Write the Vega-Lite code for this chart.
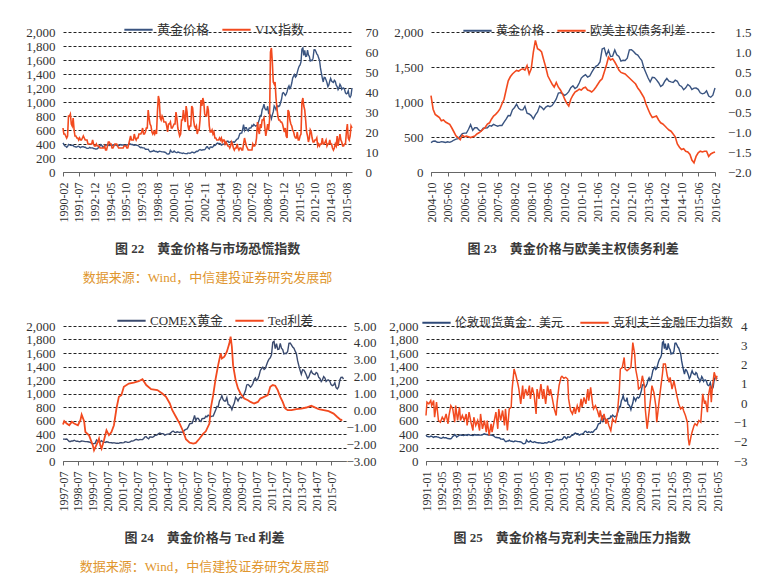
{
  "$schema": "https://vega.github.io/schema/vega-lite/v6.json",
  "padding": {"left": 25, "top": 14, "right": 2, "bottom": 2},
  "datasets": {
    "gold": [
      {"d":"1990-01","v":410},{"d":"1990-02","v":417},{"d":"1990-03","v":394},{"d":"1990-04","v":374},{"d":"1990-05","v":369},{"d":"1990-06","v":352},{"d":"1990-07","v":362},{"d":"1990-08","v":395},{"d":"1990-09","v":389},{"d":"1990-10","v":381},{"d":"1990-11","v":381},{"d":"1990-12","v":378},
      {"d":"1991-01","v":384},{"d":"1991-02","v":364},{"d":"1991-03","v":363},{"d":"1991-04","v":358},{"d":"1991-05","v":357},{"d":"1991-06","v":367},{"d":"1991-07","v":368},{"d":"1991-08","v":356},{"d":"1991-09","v":349},{"d":"1991-10","v":359},{"d":"1991-11","v":360},{"d":"1991-12","v":361},
      {"d":"1992-01","v":354},{"d":"1992-02","v":354},{"d":"1992-03","v":345},{"d":"1992-04","v":338},{"d":"1992-05","v":337},{"d":"1992-06","v":341},{"d":"1992-07","v":353},{"d":"1992-08","v":343},{"d":"1992-09","v":345},{"d":"1992-10","v":344},{"d":"1992-11","v":335},{"d":"1992-12","v":334},
      {"d":"1993-01","v":329},{"d":"1993-02","v":329},{"d":"1993-03","v":330},{"d":"1993-04","v":342},{"d":"1993-05","v":367},{"d":"1993-06","v":372},{"d":"1993-07","v":392},{"d":"1993-08","v":379},{"d":"1993-09","v":355},{"d":"1993-10","v":364},{"d":"1993-11","v":374},{"d":"1993-12","v":383},
      {"d":"1994-01","v":387},{"d":"1994-02","v":382},{"d":"1994-03","v":384},{"d":"1994-04","v":377},{"d":"1994-05","v":381},{"d":"1994-06","v":386},{"d":"1994-07","v":385},{"d":"1994-08","v":380},{"d":"1994-09","v":391},{"d":"1994-10","v":389},{"d":"1994-11","v":384},{"d":"1994-12","v":379},
      {"d":"1995-01","v":379},{"d":"1995-02","v":377},{"d":"1995-03","v":382},{"d":"1995-04","v":391},{"d":"1995-05","v":385},{"d":"1995-06","v":387},{"d":"1995-07","v":386},{"d":"1995-08","v":383},{"d":"1995-09","v":383},{"d":"1995-10","v":383},{"d":"1995-11","v":386},{"d":"1995-12","v":387},
      {"d":"1996-01","v":400},{"d":"1996-02","v":405},{"d":"1996-03","v":396},{"d":"1996-04","v":393},{"d":"1996-05","v":392},{"d":"1996-06","v":385},{"d":"1996-07","v":383},{"d":"1996-08","v":387},{"d":"1996-09","v":383},{"d":"1996-10","v":381},{"d":"1996-11","v":378},{"d":"1996-12","v":369},
      {"d":"1997-01","v":355},{"d":"1997-02","v":347},{"d":"1997-03","v":352},{"d":"1997-04","v":344},{"d":"1997-05","v":344},{"d":"1997-06","v":341},{"d":"1997-07","v":324},{"d":"1997-08","v":324},{"d":"1997-09","v":323},{"d":"1997-10","v":325},{"d":"1997-11","v":306},{"d":"1997-12","v":289},
      {"d":"1998-01","v":289},{"d":"1998-02","v":297},{"d":"1998-03","v":296},{"d":"1998-04","v":308},{"d":"1998-05","v":299},{"d":"1998-06","v":292},{"d":"1998-07","v":293},{"d":"1998-08","v":284},{"d":"1998-09","v":289},{"d":"1998-10","v":296},{"d":"1998-11","v":294},{"d":"1998-12","v":291},
      {"d":"1999-01","v":287},{"d":"1999-02","v":287},{"d":"1999-03","v":286},{"d":"1999-04","v":282},{"d":"1999-05","v":277},{"d":"1999-06","v":261},{"d":"1999-07","v":256},{"d":"1999-08","v":257},{"d":"1999-09","v":265},{"d":"1999-10","v":311},{"d":"1999-11","v":293},{"d":"1999-12","v":283},
      {"d":"2000-01","v":285},{"d":"2000-02","v":300},{"d":"2000-03","v":286},{"d":"2000-04","v":280},{"d":"2000-05","v":275},{"d":"2000-06","v":286},{"d":"2000-07","v":282},{"d":"2000-08","v":274},{"d":"2000-09","v":273},{"d":"2000-10","v":270},{"d":"2000-11","v":266},{"d":"2000-12","v":272},
      {"d":"2001-01","v":266},{"d":"2001-02","v":262},{"d":"2001-03","v":263},{"d":"2001-04","v":261},{"d":"2001-05","v":272},{"d":"2001-06","v":270},{"d":"2001-07","v":268},{"d":"2001-08","v":273},{"d":"2001-09","v":284},{"d":"2001-10","v":283},{"d":"2001-11","v":276},{"d":"2001-12","v":276},
      {"d":"2002-01","v":282},{"d":"2002-02","v":296},{"d":"2002-03","v":294},{"d":"2002-04","v":302},{"d":"2002-05","v":314},{"d":"2002-06","v":322},{"d":"2002-07","v":314},{"d":"2002-08","v":310},{"d":"2002-09","v":319},{"d":"2002-10","v":317},{"d":"2002-11","v":319},{"d":"2002-12","v":333},
      {"d":"2003-01","v":357},{"d":"2003-02","v":359},{"d":"2003-03","v":340},{"d":"2003-04","v":329},{"d":"2003-05","v":355},{"d":"2003-06","v":356},{"d":"2003-07","v":351},{"d":"2003-08","v":360},{"d":"2003-09","v":379},{"d":"2003-10","v":379},{"d":"2003-11","v":390},{"d":"2003-12","v":407},
      {"d":"2004-01","v":414},{"d":"2004-02","v":405},{"d":"2004-03","v":406},{"d":"2004-04","v":403},{"d":"2004-05","v":384},{"d":"2004-06","v":392},{"d":"2004-07","v":398},{"d":"2004-08","v":401},{"d":"2004-09","v":406},{"d":"2004-10","v":420},{"d":"2004-11","v":439},{"d":"2004-12","v":442},
      {"d":"2005-01","v":424},{"d":"2005-02","v":423},{"d":"2005-03","v":434},{"d":"2005-04","v":429},{"d":"2005-05","v":422},{"d":"2005-06","v":431},{"d":"2005-07","v":424},{"d":"2005-08","v":438},{"d":"2005-09","v":457},{"d":"2005-10","v":470},{"d":"2005-11","v":476},{"d":"2005-12","v":510},
      {"d":"2006-01","v":549},{"d":"2006-02","v":555},{"d":"2006-03","v":557},{"d":"2006-04","v":610},{"d":"2006-05","v":676},{"d":"2006-06","v":596},{"d":"2006-07","v":633},{"d":"2006-08","v":632},{"d":"2006-09","v":598},{"d":"2006-10","v":585},{"d":"2006-11","v":627},{"d":"2006-12","v":629},
      {"d":"2007-01","v":631},{"d":"2007-02","v":665},{"d":"2007-03","v":655},{"d":"2007-04","v":680},{"d":"2007-05","v":667},{"d":"2007-06","v":655},{"d":"2007-07","v":665},{"d":"2007-08","v":665},{"d":"2007-09","v":712},{"d":"2007-10","v":754},{"d":"2007-11","v":806},{"d":"2007-12","v":803},
      {"d":"2008-01","v":889},{"d":"2008-02","v":922},{"d":"2008-03","v":968},{"d":"2008-04","v":909},{"d":"2008-05","v":888},{"d":"2008-06","v":889},{"d":"2008-07","v":939},{"d":"2008-08","v":839},{"d":"2008-09","v":829},{"d":"2008-10","v":806},{"d":"2008-11","v":760},{"d":"2008-12","v":816},
      {"d":"2009-01","v":858},{"d":"2009-02","v":943},{"d":"2009-03","v":924},{"d":"2009-04","v":890},{"d":"2009-05","v":928},{"d":"2009-06","v":945},{"d":"2009-07","v":934},{"d":"2009-08","v":949},{"d":"2009-09","v":996},{"d":"2009-10","v":1043},{"d":"2009-11","v":1127},{"d":"2009-12","v":1134},
      {"d":"2010-01","v":1117},{"d":"2010-02","v":1095},{"d":"2010-03","v":1113},{"d":"2010-04","v":1148},{"d":"2010-05","v":1205},{"d":"2010-06","v":1232},{"d":"2010-07","v":1193},{"d":"2010-08","v":1215},{"d":"2010-09","v":1271},{"d":"2010-10","v":1342},{"d":"2010-11","v":1370},{"d":"2010-12","v":1391},
      {"d":"2011-01","v":1356},{"d":"2011-02","v":1372},{"d":"2011-03","v":1424},{"d":"2011-04","v":1473},{"d":"2011-05","v":1510},{"d":"2011-06","v":1529},{"d":"2011-07","v":1572},{"d":"2011-08","v":1756},{"d":"2011-09","v":1772},{"d":"2011-10","v":1665},{"d":"2011-11","v":1739},{"d":"2011-12","v":1652},
      {"d":"2012-01","v":1656},{"d":"2012-02","v":1742},{"d":"2012-03","v":1673},{"d":"2012-04","v":1650},{"d":"2012-05","v":1585},{"d":"2012-06","v":1596},{"d":"2012-07","v":1594},{"d":"2012-08","v":1626},{"d":"2012-09","v":1744},{"d":"2012-10","v":1747},{"d":"2012-11","v":1721},{"d":"2012-12","v":1688},
      {"d":"2013-01","v":1671},{"d":"2013-02","v":1627},{"d":"2013-03","v":1593},{"d":"2013-04","v":1487},{"d":"2013-05","v":1414},{"d":"2013-06","v":1343},{"d":"2013-07","v":1286},{"d":"2013-08","v":1352},{"d":"2013-09","v":1348},{"d":"2013-10","v":1316},{"d":"2013-11","v":1275},{"d":"2013-12","v":1221},
      {"d":"2014-01","v":1244},{"d":"2014-02","v":1300},{"d":"2014-03","v":1336},{"d":"2014-04","v":1299},{"d":"2014-05","v":1287},{"d":"2014-06","v":1279},{"d":"2014-07","v":1311},{"d":"2014-08","v":1296},{"d":"2014-09","v":1239},{"d":"2014-10","v":1222},{"d":"2014-11","v":1176},{"d":"2014-12","v":1202},
      {"d":"2015-01","v":1251},{"d":"2015-02","v":1227},{"d":"2015-03","v":1179},{"d":"2015-04","v":1198},{"d":"2015-05","v":1199},{"d":"2015-06","v":1181},{"d":"2015-07","v":1131},{"d":"2015-08","v":1117},{"d":"2015-09","v":1125},{"d":"2015-10","v":1159},{"d":"2015-11","v":1086},{"d":"2015-12","v":1068},
      {"d":"2016-01","v":1097},{"d":"2016-02","v":1200},{"d":"2016-03","v":1238},{"d":"2016-04","v":1242},{"d":"2016-05","v":1215}
    ],
    "vix": [
      {"d":"1990-02","v":22},{"d":"1990-03","v":19},{"d":"1990-04","v":19},{"d":"1990-05","v":18},{"d":"1990-06","v":17},{"d":"1990-07","v":18},{"d":"1990-08","v":28},{"d":"1990-09","v":28},{"d":"1990-10","v":29},{"d":"1990-11","v":24},{"d":"1990-12","v":23},
      {"d":"1991-01","v":27},{"d":"1991-02","v":21},{"d":"1991-03","v":18},{"d":"1991-04","v":18},{"d":"1991-05","v":17},{"d":"1991-06","v":17},{"d":"1991-07","v":16},{"d":"1991-08","v":17},{"d":"1991-09","v":16},{"d":"1991-10","v":16},{"d":"1991-11","v":17},{"d":"1991-12","v":18},
      {"d":"1992-01","v":17},{"d":"1992-02","v":16},{"d":"1992-03","v":16},{"d":"1992-04","v":16},{"d":"1992-05","v":14},{"d":"1992-06","v":14},{"d":"1992-07","v":14},{"d":"1992-08","v":14},{"d":"1992-09","v":14},{"d":"1992-10","v":16},{"d":"1992-11","v":14},{"d":"1992-12","v":13},
      {"d":"1993-01","v":13},{"d":"1993-02","v":14},{"d":"1993-03","v":13},{"d":"1993-04","v":13},{"d":"1993-05","v":13},{"d":"1993-06","v":12},{"d":"1993-07","v":12},{"d":"1993-08","v":12},{"d":"1993-09","v":12},{"d":"1993-10","v":12},{"d":"1993-11","v":13},{"d":"1993-12","v":11},
      {"d":"1994-01","v":11},{"d":"1994-02","v":13},{"d":"1994-03","v":15},{"d":"1994-04","v":15},{"d":"1994-05","v":14},{"d":"1994-06","v":14},{"d":"1994-07","v":12},{"d":"1994-08","v":12},{"d":"1994-09","v":13},{"d":"1994-10","v":14},{"d":"1994-11","v":14},{"d":"1994-12","v":14},
      {"d":"1995-01","v":13},{"d":"1995-02","v":12},{"d":"1995-03","v":12},{"d":"1995-04","v":12},{"d":"1995-05","v":12},{"d":"1995-06","v":12},{"d":"1995-07","v":12},{"d":"1995-08","v":13},{"d":"1995-09","v":13},{"d":"1995-10","v":13},{"d":"1995-11","v":12},{"d":"1995-12","v":12},
      {"d":"1996-01","v":14},{"d":"1996-02","v":16},{"d":"1996-03","v":18},{"d":"1996-04","v":16},{"d":"1996-05","v":16},{"d":"1996-06","v":16},{"d":"1996-07","v":19},{"d":"1996-08","v":17},{"d":"1996-09","v":16},{"d":"1996-10","v":17},{"d":"1996-11","v":17},{"d":"1996-12","v":19},
      {"d":"1997-01","v":19},{"d":"1997-02","v":19},{"d":"1997-03","v":20},{"d":"1997-04","v":22},{"d":"1997-05","v":19},{"d":"1997-06","v":19},{"d":"1997-07","v":20},{"d":"1997-08","v":22},{"d":"1997-09","v":22},{"d":"1997-10","v":31},{"d":"1997-11","v":27},{"d":"1997-12","v":24},
      {"d":"1998-01","v":23},{"d":"1998-02","v":20},{"d":"1998-03","v":19},{"d":"1998-04","v":20},{"d":"1998-05","v":19},{"d":"1998-06","v":21},{"d":"1998-07","v":19},{"d":"1998-08","v":30},{"d":"1998-09","v":38},{"d":"1998-10","v":36},{"d":"1998-11","v":27},{"d":"1998-12","v":26},
      {"d":"1999-01","v":28},{"d":"1999-02","v":27},{"d":"1999-03","v":25},{"d":"1999-04","v":25},{"d":"1999-05","v":25},{"d":"1999-06","v":23},{"d":"1999-07","v":20},{"d":"1999-08","v":24},{"d":"1999-09","v":24},{"d":"1999-10","v":25},{"d":"1999-11","v":22},{"d":"1999-12","v":22},
      {"d":"2000-01","v":23},{"d":"2000-02","v":24},{"d":"2000-03","v":24},{"d":"2000-04","v":30},{"d":"2000-05","v":27},{"d":"2000-06","v":22},{"d":"2000-07","v":20},{"d":"2000-08","v":18},{"d":"2000-09","v":19},{"d":"2000-10","v":26},{"d":"2000-11","v":26},{"d":"2000-12","v":31},
      {"d":"2001-01","v":27},{"d":"2001-02","v":25},{"d":"2001-03","v":33},{"d":"2001-04","v":30},{"d":"2001-05","v":23},{"d":"2001-06","v":21},{"d":"2001-07","v":23},{"d":"2001-08","v":23},{"d":"2001-09","v":33},{"d":"2001-10","v":32},{"d":"2001-11","v":26},{"d":"2001-12","v":23},
      {"d":"2002-01","v":22},{"d":"2002-02","v":23},{"d":"2002-03","v":19},{"d":"2002-04","v":21},{"d":"2002-05","v":21},{"d":"2002-06","v":26},{"d":"2002-07","v":36},{"d":"2002-08","v":33},{"d":"2002-09","v":37},{"d":"2002-10","v":35},{"d":"2002-11","v":29},{"d":"2002-12","v":28},
      {"d":"2003-01","v":28},{"d":"2003-02","v":33},{"d":"2003-03","v":31},{"d":"2003-04","v":23},{"d":"2003-05","v":20},{"d":"2003-06","v":20},{"d":"2003-07","v":21},{"d":"2003-08","v":19},{"d":"2003-09","v":20},{"d":"2003-10","v":17},{"d":"2003-11","v":17},{"d":"2003-12","v":16},
      {"d":"2004-01","v":16},{"d":"2004-02","v":16},{"d":"2004-03","v":17},{"d":"2004-04","v":16},{"d":"2004-05","v":17},{"d":"2004-06","v":15},{"d":"2004-07","v":16},{"d":"2004-08","v":16},{"d":"2004-09","v":14},{"d":"2004-10","v":15},{"d":"2004-11","v":14},{"d":"2004-12","v":13},
      {"d":"2005-01","v":13},{"d":"2005-02","v":12},{"d":"2005-03","v":13},{"d":"2005-04","v":15},{"d":"2005-05","v":14},{"d":"2005-06","v":12},{"d":"2005-07","v":11},{"d":"2005-08","v":12},{"d":"2005-09","v":12},{"d":"2005-10","v":14},{"d":"2005-11","v":12},{"d":"2005-12","v":11},
      {"d":"2006-01","v":12},{"d":"2006-02","v":12},{"d":"2006-03","v":11},{"d":"2006-04","v":11},{"d":"2006-05","v":14},{"d":"2006-06","v":17},{"d":"2006-07","v":15},{"d":"2006-08","v":13},{"d":"2006-09","v":12},{"d":"2006-10","v":11},{"d":"2006-11","v":11},{"d":"2006-12","v":11},
      {"d":"2007-01","v":11},{"d":"2007-02","v":11},{"d":"2007-03","v":14},{"d":"2007-04","v":13},{"d":"2007-05","v":13},{"d":"2007-06","v":14},{"d":"2007-07","v":17},{"d":"2007-08","v":25},{"d":"2007-09","v":21},{"d":"2007-10","v":19},{"d":"2007-11","v":24},{"d":"2007-12","v":22},
      {"d":"2008-01","v":26},{"d":"2008-02","v":26},{"d":"2008-03","v":27},{"d":"2008-04","v":22},{"d":"2008-05","v":18},{"d":"2008-06","v":21},{"d":"2008-07","v":24},{"d":"2008-08","v":21},{"d":"2008-09","v":26},{"d":"2008-10","v":60},{"d":"2008-11","v":62},{"d":"2008-12","v":55},
      {"d":"2009-01","v":45},{"d":"2009-02","v":44},{"d":"2009-03","v":45},{"d":"2009-04","v":37},{"d":"2009-05","v":32},{"d":"2009-06","v":28},{"d":"2009-07","v":26},{"d":"2009-08","v":26},{"d":"2009-09","v":25},{"d":"2009-10","v":25},{"d":"2009-11","v":24},{"d":"2009-12","v":22},
      {"d":"2010-01","v":20},{"d":"2010-02","v":22},{"d":"2010-03","v":18},{"d":"2010-04","v":17},{"d":"2010-05","v":31},{"d":"2010-06","v":30},{"d":"2010-07","v":26},{"d":"2010-08","v":24},{"d":"2010-09","v":23},{"d":"2010-10","v":21},{"d":"2010-11","v":20},{"d":"2010-12","v":18},
      {"d":"2011-01","v":17},{"d":"2011-02","v":17},{"d":"2011-03","v":20},{"d":"2011-04","v":16},{"d":"2011-05","v":16},{"d":"2011-06","v":18},{"d":"2011-07","v":19},{"d":"2011-08","v":35},{"d":"2011-09","v":37},{"d":"2011-10","v":33},{"d":"2011-11","v":31},{"d":"2011-12","v":26},
      {"d":"2012-01","v":20},{"d":"2012-02","v":18},{"d":"2012-03","v":15},{"d":"2012-04","v":17},{"d":"2012-05","v":21},{"d":"2012-06","v":20},{"d":"2012-07","v":17},{"d":"2012-08","v":15},{"d":"2012-09","v":15},{"d":"2012-10","v":16},{"d":"2012-11","v":16},{"d":"2012-12","v":17},
      {"d":"2013-01","v":13},{"d":"2013-02","v":14},{"d":"2013-03","v":13},{"d":"2013-04","v":14},{"d":"2013-05","v":14},{"d":"2013-06","v":17},{"d":"2013-07","v":14},{"d":"2013-08","v":14},{"d":"2013-09","v":15},{"d":"2013-10","v":16},{"d":"2013-11","v":13},{"d":"2013-12","v":14},
      {"d":"2014-01","v":14},{"d":"2014-02","v":16},{"d":"2014-03","v":14},{"d":"2014-04","v":14},{"d":"2014-05","v":12},{"d":"2014-06","v":11},{"d":"2014-07","v":12},{"d":"2014-08","v":14},{"d":"2014-09","v":13},{"d":"2014-10","v":18},{"d":"2014-11","v":13},{"d":"2014-12","v":16},
      {"d":"2015-01","v":19},{"d":"2015-02","v":16},{"d":"2015-03","v":15},{"d":"2015-04","v":13},{"d":"2015-05","v":13},{"d":"2015-06","v":14},{"d":"2015-07","v":14},{"d":"2015-08","v":20},{"d":"2015-09","v":24},{"d":"2015-10","v":17},{"d":"2015-11","v":16},{"d":"2015-12","v":18},
      {"d":"2016-01","v":23},{"d":"2016-02","v":22}
    ],
    "spread": [
      {"d":"2004-10","v":-0.09},{"d":"2004-11","v":-0.43},{"d":"2004-12","v":-0.56},{"d":"2005-01","v":-0.6},{"d":"2005-02","v":-0.64},{"d":"2005-03","v":-0.72},{"d":"2005-04","v":-0.7},{"d":"2005-05","v":-0.75},{"d":"2005-06","v":-0.78},{"d":"2005-07","v":-0.81},{"d":"2005-08","v":-0.9},{"d":"2005-09","v":-1.0},{"d":"2005-10","v":-1.1},{"d":"2005-11","v":-1.14},{"d":"2005-12","v":-1.19},
      {"d":"2006-01","v":-1.08},{"d":"2006-02","v":-1.12},{"d":"2006-03","v":-1.1},{"d":"2006-04","v":-1.12},{"d":"2006-05","v":-1.14},{"d":"2006-06","v":-1.12},{"d":"2006-07","v":-1.1},{"d":"2006-08","v":-1.05},{"d":"2006-09","v":-1.02},{"d":"2006-10","v":-0.98},{"d":"2006-11","v":-0.93},{"d":"2006-12","v":-0.88},
      {"d":"2007-01","v":-0.8},{"d":"2007-02","v":-0.77},{"d":"2007-03","v":-0.68},{"d":"2007-04","v":-0.6},{"d":"2007-05","v":-0.56},{"d":"2007-06","v":-0.5},{"d":"2007-07","v":-0.43},{"d":"2007-08","v":-0.3},{"d":"2007-09","v":-0.18},{"d":"2007-10","v":0.05},{"d":"2007-11","v":0.28},{"d":"2007-12","v":0.38},
      {"d":"2008-01","v":0.45},{"d":"2008-02","v":0.5},{"d":"2008-03","v":0.54},{"d":"2008-04","v":0.52},{"d":"2008-05","v":0.56},{"d":"2008-06","v":0.58},{"d":"2008-07","v":0.55},{"d":"2008-08","v":0.66},{"d":"2008-09","v":0.45},{"d":"2008-10","v":0.58},{"d":"2008-11","v":1.0},{"d":"2008-12","v":1.29},
      {"d":"2009-01","v":1.08},{"d":"2009-02","v":1.05},{"d":"2009-03","v":1.0},{"d":"2009-04","v":0.8},{"d":"2009-05","v":0.62},{"d":"2009-06","v":0.4},{"d":"2009-07","v":0.3},{"d":"2009-08","v":0.2},{"d":"2009-09","v":0.12},{"d":"2009-10","v":0.24},{"d":"2009-11","v":0.12},{"d":"2009-12","v":0.05},
      {"d":"2010-01","v":-0.05},{"d":"2010-02","v":-0.18},{"d":"2010-03","v":-0.28},{"d":"2010-04","v":-0.35},{"d":"2010-05","v":-0.18},{"d":"2010-06","v":-0.08},{"d":"2010-07","v":0.0},{"d":"2010-08","v":0.03},{"d":"2010-09","v":0.07},{"d":"2010-10","v":0.05},{"d":"2010-11","v":0.1},{"d":"2010-12","v":0.12},
      {"d":"2011-01","v":0.05},{"d":"2011-02","v":0.03},{"d":"2011-03","v":0.0},{"d":"2011-04","v":0.05},{"d":"2011-05","v":0.12},{"d":"2011-06","v":0.2},{"d":"2011-07","v":0.28},{"d":"2011-08","v":0.33},{"d":"2011-09","v":0.5},{"d":"2011-10","v":0.66},{"d":"2011-11","v":0.87},{"d":"2011-12","v":0.8},
      {"d":"2012-01","v":0.83},{"d":"2012-02","v":0.75},{"d":"2012-03","v":0.66},{"d":"2012-04","v":0.55},{"d":"2012-05","v":0.49},{"d":"2012-06","v":0.47},{"d":"2012-07","v":0.45},{"d":"2012-08","v":0.4},{"d":"2012-09","v":0.35},{"d":"2012-10","v":0.3},{"d":"2012-11","v":0.25},{"d":"2012-12","v":0.2},
      {"d":"2013-01","v":0.1},{"d":"2013-02","v":0.03},{"d":"2013-03","v":-0.05},{"d":"2013-04","v":-0.14},{"d":"2013-05","v":-0.3},{"d":"2013-06","v":-0.43},{"d":"2013-07","v":-0.55},{"d":"2013-08","v":-0.64},{"d":"2013-09","v":-0.62},{"d":"2013-10","v":-0.6},{"d":"2013-11","v":-0.7},{"d":"2013-12","v":-0.77},
      {"d":"2014-01","v":-0.8},{"d":"2014-02","v":-0.85},{"d":"2014-03","v":-0.9},{"d":"2014-04","v":-0.95},{"d":"2014-05","v":-0.98},{"d":"2014-06","v":-1.05},{"d":"2014-07","v":-1.12},{"d":"2014-08","v":-1.3},{"d":"2014-09","v":-1.38},{"d":"2014-10","v":-1.44},{"d":"2014-11","v":-1.42},{"d":"2014-12","v":-1.48},
      {"d":"2015-01","v":-1.5},{"d":"2015-02","v":-1.56},{"d":"2015-03","v":-1.7},{"d":"2015-04","v":-1.77},{"d":"2015-05","v":-1.61},{"d":"2015-06","v":-1.52},{"d":"2015-07","v":-1.48},{"d":"2015-08","v":-1.5},{"d":"2015-09","v":-1.48},{"d":"2015-10","v":-1.48},{"d":"2015-11","v":-1.61},{"d":"2015-12","v":-1.55},
      {"d":"2016-01","v":-1.52},{"d":"2016-02","v":-1.5}
    ],
    "ted": [
      {"d":"1997-07","v":-0.84},{"d":"1997-08","v":-0.64},{"d":"1997-10","v":-0.78},{"d":"1997-12","v":-0.88},{"d":"1998-02","v":-0.68},{"d":"1998-04","v":-0.78},{"d":"1998-07","v":-0.88},{"d":"1998-09","v":-0.58},{"d":"1998-10","v":-0.25},{"d":"1998-12","v":-0.64},
      {"d":"1999-01","v":-1.28},{"d":"1999-04","v":-1.48},{"d":"1999-05","v":-1.67},{"d":"1999-07","v":-2.07},{"d":"1999-08","v":-2.37},{"d":"1999-11","v":-1.87},{"d":"1999-12","v":-1.67},
      {"d":"2000-01","v":-2.07},{"d":"2000-02","v":-2.27},{"d":"2000-04","v":-1.77},{"d":"2000-06","v":-1.18},{"d":"2000-08","v":-1.47},{"d":"2000-10","v":-1.28},{"d":"2000-12","v":-0.88},
      {"d":"2001-02","v":0.11},{"d":"2001-04","v":0.8},{"d":"2001-06","v":0.9},{"d":"2001-08","v":1.4},{"d":"2001-12","v":1.59},{"d":"2002-04","v":1.65},{"d":"2002-08","v":1.73},{"d":"2002-11","v":1.85},
      {"d":"2003-02","v":1.5},{"d":"2003-06","v":1.26},{"d":"2003-11","v":1.2},{"d":"2004-03","v":1.0},{"d":"2004-06","v":0.8},{"d":"2004-09","v":0.41},{"d":"2004-11","v":0.01},
      {"d":"2005-02","v":-0.39},{"d":"2005-05","v":-0.78},{"d":"2005-08","v":-1.28},{"d":"2005-10","v":-1.71},{"d":"2006-01","v":-1.91},{"d":"2006-04","v":-1.97},{"d":"2006-06","v":-1.93},{"d":"2006-09","v":-1.67},{"d":"2006-12","v":-1.38},
      {"d":"2007-02","v":-1.24},{"d":"2007-05","v":-0.78},{"d":"2007-06","v":0.11},{"d":"2007-08","v":0.9},{"d":"2007-10","v":1.89},{"d":"2007-12","v":2.68},
      {"d":"2008-02","v":3.38},{"d":"2008-03","v":3.08},{"d":"2008-05","v":3.18},{"d":"2008-07","v":3.48},{"d":"2008-09","v":3.97},{"d":"2008-10","v":4.37},{"d":"2008-11","v":3.77},{"d":"2008-12","v":2.68},
      {"d":"2009-02","v":1.79},{"d":"2009-04","v":1.3},{"d":"2009-06","v":1.0},{"d":"2009-09","v":0.7},{"d":"2009-12","v":0.6},{"d":"2010-02","v":0.5},{"d":"2010-05","v":0.41},{"d":"2010-08","v":0.5},{"d":"2010-10","v":0.7},
      {"d":"2011-01","v":0.8},{"d":"2011-04","v":0.9},{"d":"2011-06","v":1.4},{"d":"2011-08","v":1.5},{"d":"2011-10","v":1.46},{"d":"2011-12","v":1.2},
      {"d":"2012-02","v":0.8},{"d":"2012-04","v":0.5},{"d":"2012-06","v":0.11},{"d":"2012-08","v":0.01},{"d":"2012-11","v":0.01},{"d":"2013-03","v":0.07},{"d":"2013-07","v":0.11},{"d":"2013-11","v":0.17},
      {"d":"2014-03","v":0.27},{"d":"2014-05","v":0.21},{"d":"2014-09","v":0.07},{"d":"2015-01","v":0.01},{"d":"2015-05","v":-0.05},{"d":"2015-09","v":-0.19},{"d":"2015-12","v":-0.39},{"d":"2016-03","v":-0.58},{"d":"2016-04","v":-0.54}
    ],
    "fsi": [
      {"d":"1991-01","v":-0.64},{"d":"1991-02","v":0.05},{"d":"1991-04","v":-0.04},{"d":"1991-06","v":0.13},{"d":"1991-07","v":-0.13},{"d":"1991-09","v":0.13},{"d":"1991-10","v":-0.73},{"d":"1991-12","v":0.05},
      {"d":"1992-02","v":-0.9},{"d":"1992-04","v":-0.99},{"d":"1992-06","v":-0.73},{"d":"1992-08","v":-0.9},{"d":"1992-10","v":-0.56},{"d":"1992-12","v":-1.07},
      {"d":"1993-01","v":-0.64},{"d":"1993-03","v":-0.13},{"d":"1993-05","v":-0.3},{"d":"1993-07","v":-0.99},{"d":"1993-08","v":-0.13},{"d":"1993-10","v":-0.9},{"d":"1993-12","v":-0.21},
      {"d":"1994-01","v":-0.9},{"d":"1994-03","v":-0.64},{"d":"1994-05","v":-0.9},{"d":"1994-07","v":-0.56},{"d":"1994-08","v":-1.16},{"d":"1994-10","v":-0.47},{"d":"1994-12","v":-0.99},
      {"d":"1995-02","v":-1.42},{"d":"1995-03","v":-0.73},{"d":"1995-05","v":-1.16},{"d":"1995-07","v":-0.9},{"d":"1995-09","v":-1.42},{"d":"1995-10","v":-0.56},{"d":"1995-12","v":-1.33},
      {"d":"1996-02","v":-0.9},{"d":"1996-04","v":-1.5},{"d":"1996-05","v":-0.9},{"d":"1996-07","v":-1.67},{"d":"1996-09","v":-1.07},{"d":"1996-10","v":-1.5},{"d":"1996-12","v":-0.99},
      {"d":"1997-02","v":-0.47},{"d":"1997-04","v":-1.33},{"d":"1997-05","v":-0.3},{"d":"1997-07","v":-0.9},{"d":"1997-09","v":-0.38},{"d":"1997-11","v":-1.16},{"d":"1997-12","v":-0.3},
      {"d":"1998-02","v":-1.42},{"d":"1998-04","v":-0.3},{"d":"1998-06","v":-0.21},{"d":"1998-07","v":0.73},{"d":"1998-09","v":1.77},{"d":"1998-11","v":1.42},
      {"d":"1999-01","v":0.99},{"d":"1999-02","v":0.73},{"d":"1999-04","v":-0.04},{"d":"1999-06","v":0.91},{"d":"1999-07","v":0.22},{"d":"1999-09","v":0.73},{"d":"1999-11","v":0.39},
      {"d":"2000-01","v":0.91},{"d":"2000-02","v":0.22},{"d":"2000-04","v":0.82},{"d":"2000-06","v":0.39},{"d":"2000-08","v":-0.56},{"d":"2000-09","v":0.73},{"d":"2000-11","v":0.22},
      {"d":"2001-01","v":0.99},{"d":"2001-03","v":0.22},{"d":"2001-04","v":0.73},{"d":"2001-06","v":-0.04},{"d":"2001-08","v":0.91},{"d":"2001-10","v":0.39},{"d":"2001-11","v":0.73},
      {"d":"2002-01","v":0.22},{"d":"2002-03","v":-0.3},{"d":"2002-05","v":-0.64},{"d":"2002-06","v":0.05},{"d":"2002-08","v":0.91},{"d":"2002-10","v":1.34},{"d":"2002-11","v":1.39},
      {"d":"2003-01","v":1.29},{"d":"2003-03","v":1.34},{"d":"2003-05","v":1.25},{"d":"2003-06","v":0.22},{"d":"2003-08","v":-0.38},{"d":"2003-10","v":-0.56},{"d":"2003-12","v":-0.21},
      {"d":"2004-01","v":-0.56},{"d":"2004-03","v":-0.13},{"d":"2004-05","v":-0.47},{"d":"2004-07","v":0.22},{"d":"2004-08","v":-0.21},{"d":"2004-10","v":0.3},{"d":"2004-12","v":-0.04},
      {"d":"2005-02","v":0.73},{"d":"2005-03","v":0.13},{"d":"2005-05","v":0.82},{"d":"2005-07","v":-0.04},{"d":"2005-08","v":-0.3},{"d":"2005-10","v":-0.13},{"d":"2005-12","v":-0.38},
      {"d":"2006-02","v":-0.73},{"d":"2006-03","v":-0.38},{"d":"2006-05","v":-0.9},{"d":"2006-07","v":-0.56},{"d":"2006-09","v":-1.07},{"d":"2006-10","v":-0.81},{"d":"2006-12","v":-1.16},
      {"d":"2007-02","v":-1.42},{"d":"2007-04","v":-0.81},{"d":"2007-05","v":-0.9},{"d":"2007-07","v":-0.99},{"d":"2007-09","v":-0.47},{"d":"2007-11","v":0.73},{"d":"2007-12","v":1.77},
      {"d":"2008-02","v":1.85},{"d":"2008-04","v":2.37},{"d":"2008-05","v":1.77},{"d":"2008-07","v":1.68},{"d":"2008-09","v":1.77},{"d":"2008-11","v":1.85},{"d":"2008-12","v":2.46},
      {"d":"2009-01","v":3.14},{"d":"2009-03","v":2.54},{"d":"2009-04","v":1.77},{"d":"2009-06","v":1.25},{"d":"2009-07","v":0.73},{"d":"2009-09","v":0.82},{"d":"2009-11","v":1.42},
      {"d":"2010-01","v":0.91},{"d":"2010-02","v":-0.3},{"d":"2010-04","v":-1.33},{"d":"2010-06","v":-0.47},{"d":"2010-08","v":0.39},{"d":"2010-09","v":0.91},{"d":"2010-11","v":0.56},
      {"d":"2011-01","v":-0.13},{"d":"2011-02","v":-0.99},{"d":"2011-04","v":-0.13},{"d":"2011-06","v":0.73},{"d":"2011-08","v":1.51},{"d":"2011-09","v":2.03},{"d":"2011-11","v":2.03},
      {"d":"2012-01","v":1.42},{"d":"2012-03","v":1.08},{"d":"2012-04","v":1.34},{"d":"2012-06","v":0.73},{"d":"2012-08","v":1.16},{"d":"2012-10","v":0.65},{"d":"2012-11","v":0.39},
      {"d":"2013-01","v":-0.04},{"d":"2013-03","v":-0.3},{"d":"2013-05","v":-0.21},{"d":"2013-06","v":-0.38},{"d":"2013-08","v":-0.64},{"d":"2013-10","v":-0.99},{"d":"2013-11","v":-1.85},{"d":"2013-12","v":-2.19},
      {"d":"2014-02","v":-1.67},{"d":"2014-03","v":-1.5},{"d":"2014-05","v":-1.16},{"d":"2014-06","v":-1.07},{"d":"2014-08","v":-1.16},{"d":"2014-10","v":-0.9},{"d":"2014-12","v":-0.99},
      {"d":"2015-01","v":-0.3},{"d":"2015-02","v":0.48},{"d":"2015-04","v":-0.04},{"d":"2015-05","v":0.13},{"d":"2015-07","v":-0.47},{"d":"2015-08","v":0.39},{"d":"2015-10","v":0.91},{"d":"2015-11","v":0.05},{"d":"2015-12","v":0.73},
      {"d":"2016-02","v":1.6},{"d":"2016-04","v":1.25},{"d":"2016-05","v":1.42}
    ]
  },
  "vconcat": [
    {
      "hconcat": [
        {
          "width": 289,
          "height": 140,
          "title": {"text": "图 22　黄金价格与市场恐慌指数", "subtitle": "数据来源：Wind，中信建投证券研究发展部"},
          "encoding": {
            "x": {
              "field": "d", "type": "temporal", "title": null,
              "scale": {"type": "utc", "domain": [{"year": 1990, "month": 2, "utc": true}, {"year": 2016, "month": 2, "utc": true}]},
              "axis": {"values": [
                {"year": 1990, "month": 2, "utc": true}, {"year": 1991, "month": 7, "utc": true}, {"year": 1992, "month": 12, "utc": true},
                {"year": 1994, "month": 5, "utc": true}, {"year": 1995, "month": 10, "utc": true}, {"year": 1997, "month": 3, "utc": true},
                {"year": 1998, "month": 8, "utc": true}, {"year": 2000, "month": 1, "utc": true}, {"year": 2001, "month": 6, "utc": true},
                {"year": 2002, "month": 11, "utc": true}, {"year": 2004, "month": 4, "utc": true}, {"year": 2005, "month": 9, "utc": true},
                {"year": 2007, "month": 2, "utc": true}, {"year": 2008, "month": 7, "utc": true}, {"year": 2009, "month": 12, "utc": true},
                {"year": 2011, "month": 5, "utc": true}, {"year": 2012, "month": 10, "utc": true}, {"year": 2014, "month": 3, "utc": true},
                {"year": 2015, "month": 8, "utc": true}
              ]}
            }
          },
          "layer": [
            {
              "data": {"name": "gold"},
              "transform": [{"filter": {"field": "d", "range": [{"year": 1990, "month": 2, "utc": true}, {"year": 2016, "month": 2, "utc": true}]}}],
              "mark": {"type": "line", "strokeWidth": 1.4},
              "encoding": {
                "y": {"field": "v", "type": "quantitative", "title": null, "scale": {"domain": [0, 2000]},
                      "axis": {"values": [0, 200, 400, 600, 800, 1000, 1200, 1400, 1600, 1800, 2000], "format": ",.0f", "grid": true}},
                "color": {"datum": "黄金价格",
                          "scale": {"domain": ["黄金价格", "VIX指数"], "range": ["#3a5480", "#f24a1f"]},
                          "legend": {"title": null, "legendX": 60, "legendY": -18, "labelFontSize": 13}}
              }
            },
            {
              "data": {"name": "vix"},
              "mark": {"type": "line", "strokeWidth": 1.6},
              "encoding": {
                "y": {"field": "v", "type": "quantitative", "title": null, "scale": {"domain": [0, 70]},
                      "axis": {"orient": "right", "values": [0, 10, 20, 30, 40, 50, 60, 70], "grid": false, "labelPadding": 13}},
                "color": {"datum": "VIX指数"}
              }
            }
          ],
          "resolve": {"scale": {"y": "independent"}}
        },
        {
          "width": 284,
          "height": 140,
          "title": {"text": "图 23　黄金价格与欧美主权债务利差"},
          "encoding": {
            "x": {
              "field": "d", "type": "temporal", "title": null,
              "scale": {"type": "utc", "domain": [{"year": 2004, "month": 10, "utc": true}, {"year": 2016, "month": 2, "utc": true}]},
              "axis": {"values": [
                {"year": 2004, "month": 10, "utc": true}, {"year": 2005, "month": 6, "utc": true}, {"year": 2006, "month": 2, "utc": true},
                {"year": 2006, "month": 10, "utc": true}, {"year": 2007, "month": 6, "utc": true}, {"year": 2008, "month": 2, "utc": true},
                {"year": 2008, "month": 10, "utc": true}, {"year": 2009, "month": 6, "utc": true}, {"year": 2010, "month": 2, "utc": true},
                {"year": 2010, "month": 10, "utc": true}, {"year": 2011, "month": 6, "utc": true}, {"year": 2012, "month": 2, "utc": true},
                {"year": 2012, "month": 10, "utc": true}, {"year": 2013, "month": 6, "utc": true}, {"year": 2014, "month": 2, "utc": true},
                {"year": 2014, "month": 10, "utc": true}, {"year": 2015, "month": 6, "utc": true}, {"year": 2016, "month": 2, "utc": true}
              ]}
            }
          },
          "layer": [
            {
              "data": {"name": "gold"},
              "transform": [{"filter": {"field": "d", "range": [{"year": 2004, "month": 10, "utc": true}, {"year": 2016, "month": 2, "utc": true}]}}],
              "mark": {"type": "line", "strokeWidth": 1.4},
              "encoding": {
                "y": {"field": "v", "type": "quantitative", "title": null, "scale": {"domain": [0, 2000]},
                      "axis": {"values": [0, 500, 1000, 1500, 2000], "format": ",.0f", "grid": true}},
                "color": {"datum": "黄金价格",
                          "scale": {"domain": ["黄金价格", "欧美主权债务利差"], "range": ["#3a5480", "#f24a1f"]},
                          "legend": {"title": null, "legendX": 31, "legendY": -17}}
              }
            },
            {
              "data": {"name": "spread"},
              "mark": {"type": "line", "strokeWidth": 1.6},
              "encoding": {
                "y": {"field": "v", "type": "quantitative", "title": null, "scale": {"domain": [-2, 1.5]},
                      "axis": {"orient": "right", "values": [-2, -1.5, -1, -0.5, 0, 0.5, 1, 1.5], "format": ".1f", "grid": false, "labelAlign": "right", "labelPadding": 36}},
                "color": {"datum": "欧美主权债务利差"}
              }
            }
          ],
          "resolve": {"scale": {"y": "independent"}}
        }
      ],
      "spacing": 15,
      "resolve": {"scale": {"color": "independent"}, "legend": {"color": "independent"}}
    },
    {
      "hconcat": [
        {
          "width": 283,
          "height": 135,
          "title": {"text": "图 24　黄金价格与 Ted 利差", "subtitle": "数据来源：Wind，中信建投证券研究发展部"},
          "encoding": {
            "x": {
              "field": "d", "type": "temporal", "title": null,
              "scale": {"type": "utc", "domain": [{"year": 1997, "month": 7, "utc": true}, {"year": 2016, "month": 7, "utc": true}]},
              "axis": {"values": [
                {"year": 1997, "month": 7, "utc": true}, {"year": 1998, "month": 7, "utc": true}, {"year": 1999, "month": 7, "utc": true},
                {"year": 2000, "month": 7, "utc": true}, {"year": 2001, "month": 7, "utc": true}, {"year": 2002, "month": 7, "utc": true},
                {"year": 2003, "month": 7, "utc": true}, {"year": 2004, "month": 7, "utc": true}, {"year": 2005, "month": 7, "utc": true},
                {"year": 2006, "month": 7, "utc": true}, {"year": 2007, "month": 7, "utc": true}, {"year": 2008, "month": 7, "utc": true},
                {"year": 2009, "month": 7, "utc": true}, {"year": 2010, "month": 7, "utc": true}, {"year": 2011, "month": 7, "utc": true},
                {"year": 2012, "month": 7, "utc": true}, {"year": 2013, "month": 7, "utc": true}, {"year": 2014, "month": 7, "utc": true},
                {"year": 2015, "month": 7, "utc": true}
              ]}
            }
          },
          "layer": [
            {
              "data": {"name": "gold"},
              "transform": [{"filter": {"field": "d", "range": [{"year": 1997, "month": 7, "utc": true}, {"year": 2016, "month": 5, "utc": true}]}}],
              "mark": {"type": "line", "strokeWidth": 1.4},
              "encoding": {
                "y": {"field": "v", "type": "quantitative", "title": null, "scale": {"domain": [0, 2000]},
                      "axis": {"values": [0, 200, 400, 600, 800, 1000, 1200, 1400, 1600, 1800, 2000], "format": ",.0f", "grid": true}},
                "color": {"datum": "COMEX黄金",
                          "scale": {"domain": ["COMEX黄金", "Ted利差"], "range": ["#3a4a6e", "#f24a1f"]},
                          "legend": {"title": null, "legendX": 53, "legendY": -21, "labelFontSize": 13}}
              }
            },
            {
              "data": {"name": "ted"},
              "mark": {"type": "line", "strokeWidth": 1.8},
              "encoding": {
                "y": {"field": "v", "type": "quantitative", "title": null, "scale": {"domain": [-3, 5]},
                      "axis": {"orient": "right", "values": [-3, -2, -1, 0, 1, 2, 3, 4, 5], "format": ".2f", "grid": false, "labelAlign": "right", "labelPadding": 30}},
                "color": {"datum": "Ted利差"}
              }
            }
          ],
          "resolve": {"scale": {"y": "independent"}}
        },
        {
          "width": 292,
          "height": 135,
          "title": {"text": "图 25　黄金价格与克利夫兰金融压力指数"},
          "encoding": {
            "x": {
              "field": "d", "type": "temporal", "title": null,
              "scale": {"type": "utc", "domain": [{"year": 1991, "month": 1, "utc": true}, {"year": 2016, "month": 6, "utc": true}]},
              "axis": {"values": [
                {"year": 1991, "month": 1, "utc": true}, {"year": 1992, "month": 5, "utc": true}, {"year": 1993, "month": 9, "utc": true},
                {"year": 1995, "month": 1, "utc": true}, {"year": 1996, "month": 5, "utc": true}, {"year": 1997, "month": 9, "utc": true},
                {"year": 1999, "month": 1, "utc": true}, {"year": 2000, "month": 5, "utc": true}, {"year": 2001, "month": 9, "utc": true},
                {"year": 2003, "month": 1, "utc": true}, {"year": 2004, "month": 5, "utc": true}, {"year": 2005, "month": 9, "utc": true},
                {"year": 2007, "month": 1, "utc": true}, {"year": 2008, "month": 5, "utc": true}, {"year": 2009, "month": 9, "utc": true},
                {"year": 2011, "month": 1, "utc": true}, {"year": 2012, "month": 5, "utc": true}, {"year": 2013, "month": 9, "utc": true},
                {"year": 2015, "month": 1, "utc": true}, {"year": 2016, "month": 5, "utc": true}
              ]}
            }
          },
          "layer": [
            {
              "data": {"name": "gold"},
              "transform": [{"filter": {"field": "d", "range": [{"year": 1991, "month": 1, "utc": true}, {"year": 2016, "month": 5, "utc": true}]}}],
              "mark": {"type": "line", "strokeWidth": 1.4},
              "encoding": {
                "y": {"field": "v", "type": "quantitative", "title": null, "scale": {"domain": [0, 2000]},
                      "axis": {"values": [0, 200, 400, 600, 800, 1000, 1200, 1400, 1600, 1800, 2000], "format": ",.0f", "grid": true}},
                "color": {"datum": "伦敦现货黄金：美元",
                          "scale": {"domain": ["伦敦现货黄金：美元", "克利夫兰金融压力指数"], "range": ["#2f4a78", "#f24a1f"]},
                          "legend": {"title": null, "legendX": -5, "legendY": -19, "columnPadding": 12}}
              }
            },
            {
              "data": {"name": "fsi"},
              "mark": {"type": "line", "strokeWidth": 1.5},
              "encoding": {
                "y": {"field": "v", "type": "quantitative", "title": null, "scale": {"domain": [-3, 4]},
                      "axis": {"orient": "right", "values": [-3, -2, -1, 0, 1, 2, 3, 4], "format": "d", "grid": false, "labelAlign": "right", "labelPadding": 29}},
                "color": {"datum": "克利夫兰金融压力指数"}
              }
            }
          ],
          "resolve": {"scale": {"y": "independent"}}
        }
      ],
      "spacing": 12,
      "resolve": {"scale": {"color": "independent"}, "legend": {"color": "independent"}}
    }
  ],
  "spacing": 20,
  "resolve": {"scale": {"color": "independent"}, "legend": {"color": "independent"}},
  "config": {
    "view": {"stroke": null},
    "font": "Liberation Serif, Noto Sans CJK SC",
    "axis": {
      "labelFont": "Liberation Serif, Noto Sans CJK SC", "labelFontSize": 13, "labelColor": "#333",
      "domain": false, "ticks": false, "grid": false,
      "gridColor": "#222", "gridDash": [3, 2], "gridWidth": 1, "labelPadding": 8
    },
    "axisX": {
      "domain": true, "domainColor": "#666", "ticks": true, "tickColor": "#666", "tickSize": 4,
      "labelFontSize": 12, "labelAngle": 270, "labelPadding": 6, "format": "%Y-%m", "labelOverlap": false
    },
    "legend": {
      "orient": "none", "direction": "horizontal", "symbolType": "stroke", "symbolSize": 800, "symbolStrokeWidth": 2,
      "labelFont": "Liberation Serif, Noto Sans CJK SC", "labelFontSize": 12, "labelColor": "#333",
      "labelOffset": 3, "columnPadding": 8
    },
    "title": {
      "orient": "bottom", "anchor": "middle",
      "font": "Liberation Serif, Noto Sans CJK SC", "fontSize": 13, "fontWeight": "bold", "color": "#3a3a3a", "offset": 21,
      "subtitleFont": "Liberation Serif, Noto Sans CJK SC", "subtitleFontSize": 13, "subtitleColor": "#e0962e", "subtitlePadding": 16
    }
  }
}
